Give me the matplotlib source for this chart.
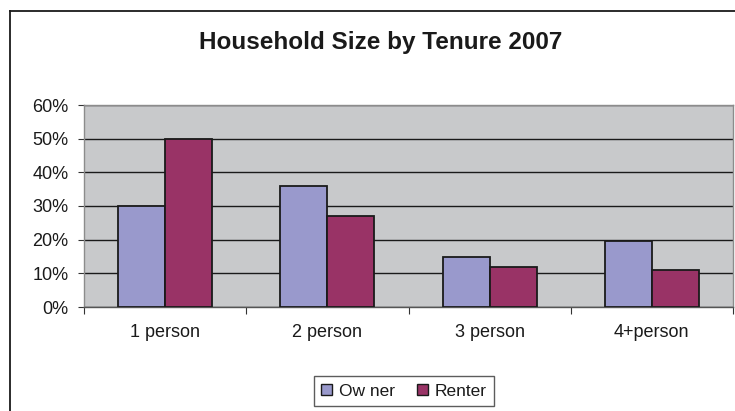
import numpy as np
import matplotlib
matplotlib.use('Agg')
import matplotlib.pyplot as plt
from matplotlib.lines import Line2D
from matplotlib.ticker import FixedLocator, PercentFormatter

plt.rcParams['font.family'] = ['Liberation Sans', 'DejaVu Sans']

## data
categories = ['1 person', '2 person', '3 person', '4+person']
owner = [30, 36, 15, 19.5]
renter = [50, 27, 12, 11]
series_names = ['Ow ner', 'Renter']
title = 'Household Size by Tenure 2007'

owner_color = '#9999cc'
renter_color = '#993366'

fig = plt.figure(figsize=(7.35, 4.11), dpi=100)
ax = fig.add_axes([84 / 735, 1 - 307 / 411, 649 / 735, 202 / 411])
ax.set_facecolor('#c8c9cb')

x = np.arange(len(categories))
w = 0.29
ax.bar(x - w / 2, owner, w, color=owner_color, edgecolor='#1a1a1a', linewidth=1.3, zorder=3)
ax.bar(x + w / 2, renter, w, color=renter_color, edgecolor='#1a1a1a', linewidth=1.3, zorder=3)

## y axis
ax.set_ylim(0, 60)
ax.set_yticks(np.arange(0, 61, 10))
ax.yaxis.set_major_formatter(PercentFormatter(decimals=0))
ax.yaxis.grid(True, color='#1a1a1a', linewidth=1.0, zorder=1)
ax.tick_params(axis='y', length=4, width=0.8, color='#333333', pad=7, labelsize=13,
               labelcolor='#1a1a1a')

## x axis: labels centred, ticks on category boundaries
ax.set_xlim(-0.5, len(categories) - 0.5)
ax.set_xticks(x)
ax.set_xticklabels(categories)
ax.tick_params(axis='x', which='major', length=0, pad=12, labelsize=13, labelcolor='#1a1a1a')
ax.xaxis.set_minor_locator(FixedLocator(np.arange(-0.5, len(categories), 1)))
ax.tick_params(axis='x', which='minor', length=5, width=0.8, color='#333333')

for s in ['top', 'right', 'left']:
    ax.spines[s].set_color('#8c8c8c')
    ax.spines[s].set_linewidth(1.0)
ax.spines['bottom'].set_color('#555555')
ax.spines['bottom'].set_linewidth(1.0)

## title
fig.text(381 / 735, 1 - 43 / 411, title, ha='center', va='center',
         fontsize=17.5, fontweight='bold', color='#1a1a1a')

## legend
handles = [plt.Rectangle((0, 0), 1, 1, fc=owner_color, ec='#1a1a1a', lw=1.0),
           plt.Rectangle((0, 0), 1, 1, fc=renter_color, ec='#1a1a1a', lw=1.0)]
leg = fig.legend(handles, series_names, loc='center', bbox_to_anchor=(404 / 735, 1 - 391 / 411),
                 ncol=2, fontsize=12.5, frameon=True, fancybox=False, edgecolor='#333333',
                 handlelength=0.6, handleheight=0.6, handletextpad=0.4, columnspacing=1.3,
                 borderpad=0.45)
leg.get_frame().set_linewidth(1.0)
for t in leg.get_texts():
    t.set_color('#1a1a1a')

## outer chart border (right and bottom edges fall outside the image)
fig.add_artist(Line2D([10 / 735, 10 / 735], [0, 1 - 11 / 411], transform=fig.transFigure,
                      color='#1a1a1a', linewidth=1.3))
fig.add_artist(Line2D([10 / 735, 1], [1 - 11 / 411, 1 - 11 / 411], transform=fig.transFigure,
                      color='#1a1a1a', linewidth=1.3))

fig.savefig('out.png', dpi=100)
